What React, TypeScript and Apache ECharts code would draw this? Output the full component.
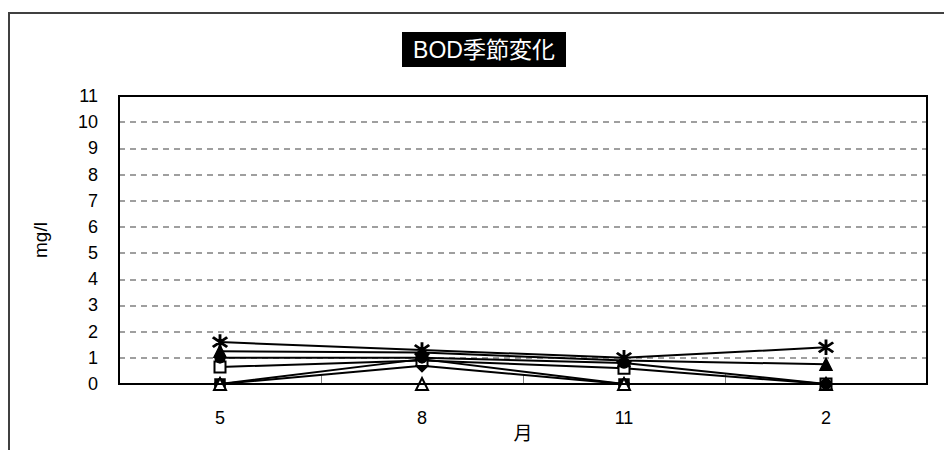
import React, { useEffect, useRef } from "react";
import * as echarts from "echarts";

const months = ["5", "8", "11", "2"];
const yTicks = [0, 11];
const asteriskSeries = [1.6, 1.3, 1.0, 1.4];
const filledTriangle = [1.25, 1.2, 0.9, 0.75];
const filledCircle = [1.0, 1.0, 0.8, 0.0];
const openSquare = [0.65, 0.9, 0.6, 0.0];
const filledSquare = [0.0, 0.95, 0.0, 0.0];
const filledDiamond = [0.0, 0.7, 0.0, 0.0];
const openTriangle = [0.0, 0.0, 0.0, 0.0];

function asteriskPath(): string {
  const w = 0.8;
  const L = 10;
  const parts: string[] = [];
  [90, 40, -40].forEach((deg) => {
    const a = (deg * Math.PI) / 180;
    const c = Math.cos(a);
    const s = Math.sin(a);
    const pts = [
      [-L, -w],
      [L, -w],
      [L, w],
      [-L, w],
    ].map(([x, y]) => [x * c - y * s, x * s + y * c]);
    parts.push(
      "M" + pts.map((p) => p[0].toFixed(2) + "," + p[1].toFixed(2)).join(" L") + " Z"
    );
  });
  return "path://" + parts.join(" ");
}

export default function App() {
  const ref = useRef<HTMLDivElement>(null);
  useEffect(() => {
    document.body.style.margin = "0";
    const chart = echarts.init(ref.current!, undefined, { renderer: "svg", width: 944, height: 450 });
    const font = "'Liberation Sans', 'Noto Sans CJK JP', sans-serif";
    const mk = (name: string, data: number[], symbol: string, size: number) => ({
      name,
      type: "line",
      data,
      symbol,
      symbolSize: size,
      showAllSymbol: true,
      lineStyle: { color: "#000", width: 2 },
      itemStyle: { color: "#000", borderColor: "#000", borderWidth: 1.5 },
      emphasis: { disabled: true },
    });
    chart.setOption({
      animation: false,
      backgroundColor: "#fff",
      graphic: [
        {
          type: "rect",
          shape: { x: 9, y: 13, width: 960, height: 480 },
          style: { fill: "none", stroke: "#404040", lineWidth: 2 },
          silent: true,
        },
        {
          type: "rect",
          shape: { x: 402, y: 32, width: 164, height: 35 },
          style: { fill: "#000" },
          silent: true,
        },
        {
          type: "text",
          x: 484,
          y: 50,
          style: {
            text: "BOD季節変化",
            fill: "#fff",
            font: "23px " + font,
            align: "center",
            verticalAlign: "middle",
          },
          silent: true,
        },
        {
          type: "rect",
          z: 100,
          shape: { x: 119, y: 96, width: 808, height: 288 },
          style: { fill: "none", stroke: "#000", lineWidth: 2 },
          silent: true,
        },
      ],
      grid: {
        left: 119,
        top: 96,
        width: 808,
        height: 288,
        show: false,
        containLabel: false,
        outerBoundsMode: "none",
      },
      xAxis: {
        type: "category",
        data: months,
        boundaryGap: true,
        name: "月",
        nameLocation: "middle",
        nameGap: 40,
        nameMoveOverlap: false,
        nameTextStyle: { color: "#000", fontSize: 19, fontFamily: font },
        axisLine: { lineStyle: { color: "#000", width: 2 } },
        axisTick: { show: true, inside: true, length: 10, lineStyle: { color: "#808080", width: 1 } },
        axisLabel: { color: "#000", fontSize: 18, fontFamily: font, margin: 25 },
        splitLine: { show: false },
      },
      yAxis: {
        type: "value",
        min: yTicks[0],
        max: yTicks[1],
        interval: 1,
        name: "mg/l",
        nameLocation: "middle",
        nameGap: 69,
        nameMoveOverlap: false,
        nameRotate: 90,
        nameTextStyle: { color: "#000", fontSize: 19, fontFamily: font },
        axisLine: { show: true, lineStyle: { color: "#000", width: 2 } },
        axisTick: { show: false },
        axisLabel: { color: "#000", fontSize: 18, fontFamily: font, margin: 21 },
        splitLine: { show: true, lineStyle: { color: "#808080", type: [6, 5], width: 1.5 } },
      },
      series: [
        mk("filledSquare", filledSquare, "rect", 10),
        mk("filledDiamond", filledDiamond, "diamond", 12),
        mk("openTriangle", openTriangle, "emptyTriangle", 12),
        mk("openSquare", openSquare, "emptyRect", 11),
        mk("filledCircle", filledCircle, "circle", 10),
        mk("filledTriangle", filledTriangle, "triangle", 12),
        mk("asterisk", asteriskSeries, asteriskPath(), 14),
      ],
    });
    return () => chart.dispose();
  }, []);
  return <div ref={ref} style={{ position: "absolute", left: 0, top: 0, width: 944, height: 450 }} />;
}
